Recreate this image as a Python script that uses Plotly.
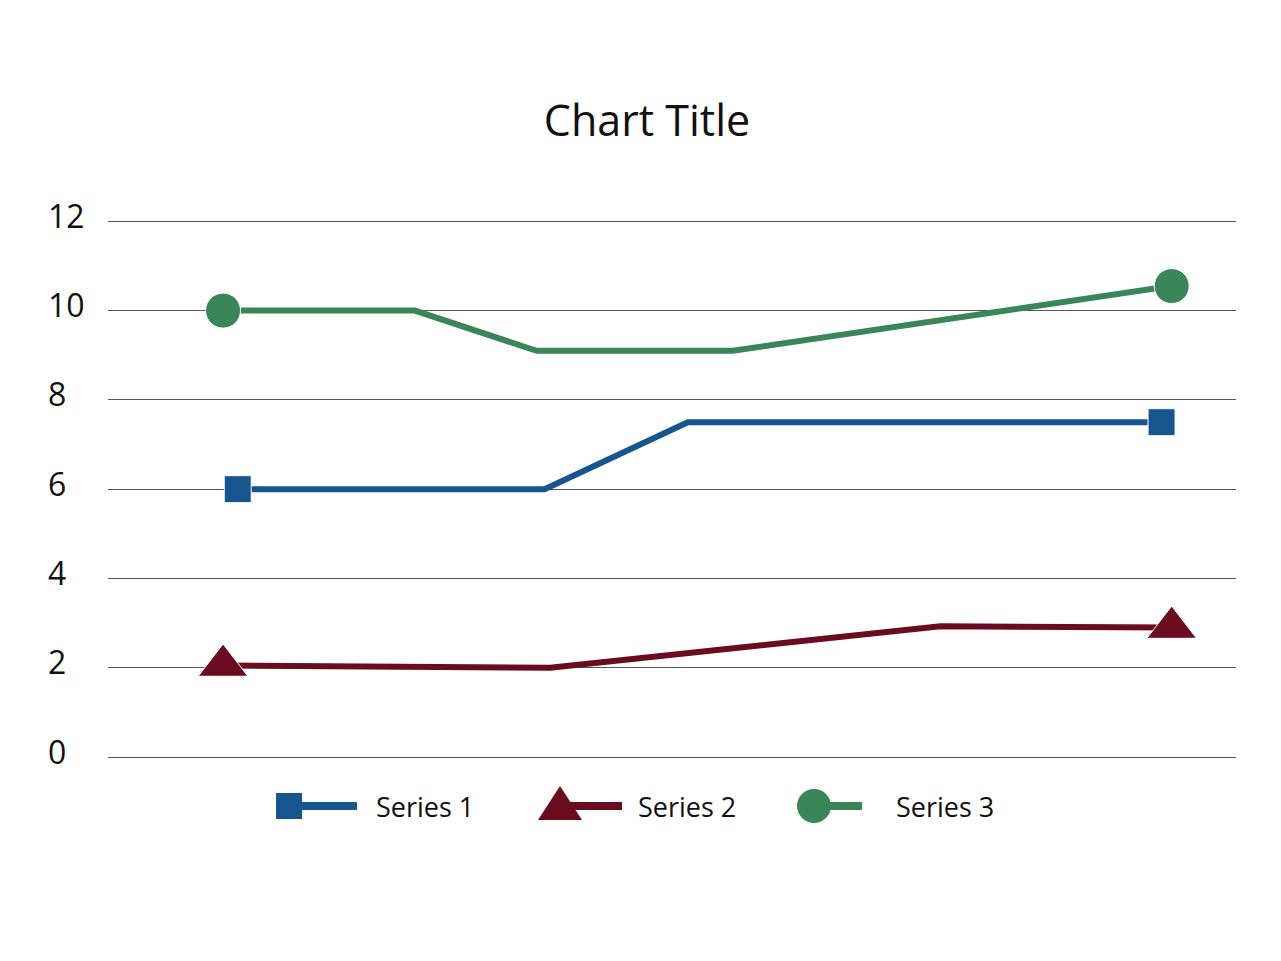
import plotly.graph_objects as go

# horizontal positions on a 0-100 scale, values per series
s1_x = [11.5, 38.7, 51.4, 93.4]
s1_y = [6.0, 6.0, 7.5, 7.5]
s2_x = [10.2, 39.2, 73.8, 94.3]
s2_y = [2.05, 2.0, 2.93, 2.9]
s3_x = [10.2, 27.2, 38.0, 55.4, 94.3]
s3_y = [10.0, 10.0, 9.1, 9.1, 10.55]

series_names = ['Series 1', 'Series 2', 'Series 3']
y_ticks = [0, 2, 4, 6, 8, 10, 12]

BLUE = '#16558f'
RED = '#6a0c1f'
GREEN = '#3a8659'

# plot area in page pixels (page body has an 8px margin)
OFF = 8
PL, PR, PT, PB = 108, 1236, 220, 757
W, H = 1281 - 2 * OFF, 961 - 2 * OFF


def px(x):
    return (x - PL) / (PR - PL)


def py(y):
    return (PB - y) / (PB - PT)


def end_sizes(n, size):
    # marker only on first and last point
    return [size] + [0] * (n - 2) + [size]


fig = go.Figure()
fig.add_trace(go.Scatter(
    x=s1_x, y=s1_y, mode='lines+markers', name=series_names[0],
    line=dict(color=BLUE, width=6),
    marker=dict(symbol='square', size=end_sizes(len(s1_x), 27), color=BLUE, opacity=1),
    showlegend=False,
))
fig.add_trace(go.Scatter(
    x=s2_x, y=s2_y, mode='lines+markers', name=series_names[1],
    line=dict(color=RED, width=6),
    marker=dict(symbol='triangle-up', size=end_sizes(len(s2_x), 43), color=RED, opacity=1),
    showlegend=False,
))
fig.add_trace(go.Scatter(
    x=s3_x, y=s3_y, mode='lines+markers', name=series_names[2],
    line=dict(color=GREEN, width=6),
    marker=dict(symbol='circle', size=end_sizes(len(s3_x), 35), color=GREEN, opacity=1),
    showlegend=False,
))

# hand-made legend: marker on the left, line running right
shapes = []
annotations = []
ly = 806
# series 1
shapes.append(dict(type='line', xref='paper', yref='paper', x0=px(295), x1=px(357), y0=py(ly), y1=py(ly),
                   line=dict(color=BLUE, width=8)))
shapes.append(dict(type='rect', xref='paper', yref='paper', x0=px(276), x1=px(302), y0=py(793), y1=py(819),
                   fillcolor=BLUE, line=dict(width=0)))
# series 2
shapes.append(dict(type='line', xref='paper', yref='paper', x0=px(560), x1=px(622), y0=py(ly), y1=py(ly),
                   line=dict(color=RED, width=8)))
shapes.append(dict(type='path', xref='paper', yref='paper',
                   path='M {} {} L {} {} L {} {} Z'.format(px(538), py(820), px(582), py(820), px(560), py(786)),
                   fillcolor=RED, line=dict(width=0)))
# series 3
shapes.append(dict(type='line', xref='paper', yref='paper', x0=px(814), x1=px(862), y0=py(ly), y1=py(ly),
                   line=dict(color=GREEN, width=8)))
shapes.append(dict(type='circle', xref='paper', yref='paper', x0=px(797), x1=px(831), y0=py(789), y1=py(823),
                   fillcolor=GREEN, line=dict(width=0)))

for name, tx in zip(series_names, [374, 636, 894]):
    annotations.append(dict(text=name, xref='paper', yref='paper', x=px(tx), y=py(ly),
                            xanchor='left', yanchor='middle', showarrow=False,
                            font=dict(size=27, color='#111111')))

# y tick labels are left-aligned in the original, so draw them as annotations
for t in y_ticks:
    annotations.append(dict(text=str(t), xref='paper', yref='y', x=px(46), y=t, yshift=6,
                            xanchor='left', yanchor='middle', showarrow=False,
                            font=dict(size=32, color='#111111')))

fig.update_layout(
    width=W, height=H,
    margin=dict(l=PL - OFF, r=W - (PR - OFF), t=PT - OFF, b=H - (PB - OFF)),
    paper_bgcolor='white', plot_bgcolor='white',
    font=dict(family='Open Sans', color='#111111'),
    title=dict(text='Chart Title', x=(647 - OFF) / W, xanchor='center', y=1 - (121 - OFF) / H,
               yanchor='middle', font=dict(size=43, color='#111111')),
    xaxis=dict(range=[0, 100], visible=False, showgrid=False, zeroline=False),
    yaxis=dict(range=[0, 12.03], tickvals=y_ticks, showgrid=True, gridcolor='#555555', gridwidth=1,
               zeroline=True, zerolinecolor='#555555', zerolinewidth=1, showline=False,
               ticks='', showticklabels=False),
    shapes=shapes,
    annotations=annotations,
    showlegend=False,
)

fig.write_html("out.html")
